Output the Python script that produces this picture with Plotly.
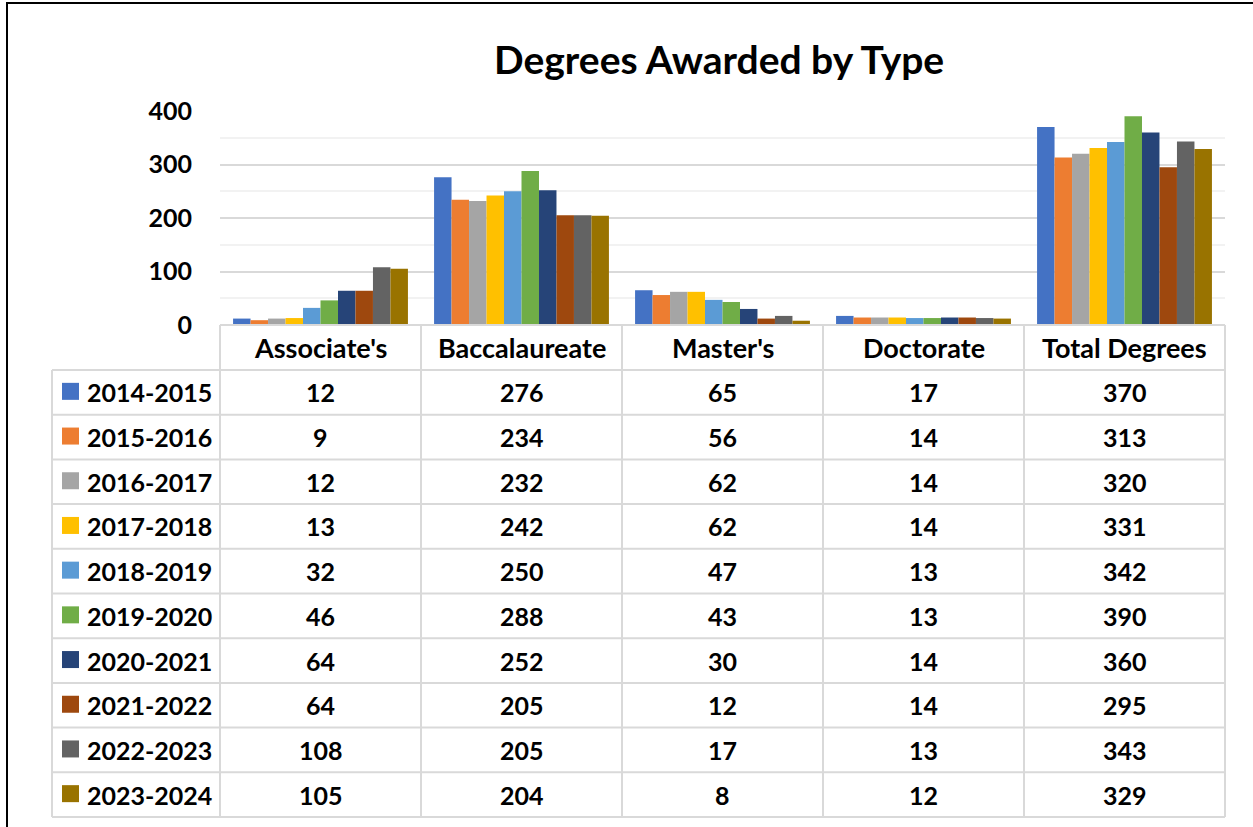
import plotly.graph_objects as go

W, H = 1253, 827

categories = ["Associate's", "Baccalaureate", "Master's", "Doctorate", "Total Degrees"]
years = ["2014-2015", "2015-2016", "2016-2017", "2017-2018", "2018-2019",
         "2019-2020", "2020-2021", "2021-2022", "2022-2023", "2023-2024"]
v2014 = [12, 276, 65, 17, 370]
v2015 = [9, 234, 56, 14, 313]
v2016 = [12, 232, 62, 14, 320]
v2017 = [13, 242, 62, 14, 331]
v2018 = [32, 250, 47, 13, 342]
v2019 = [46, 288, 43, 13, 390]
v2020 = [64, 252, 30, 14, 360]
v2021 = [64, 205, 12, 14, 295]
v2022 = [108, 205, 17, 13, 343]
v2023 = [105, 204, 8, 12, 329]
series = [v2014, v2015, v2016, v2017, v2018, v2019, v2020, v2021, v2022, v2023]
colors = ["#4472C4", "#ED7D31", "#A5A5A5", "#FFC000", "#5B9BD5",
          "#70AD47", "#264478", "#9E480E", "#636363", "#997300"]
title = "Degrees Awarded by Type"
y_ticks = [0, 100, 200, 300, 400]

FONT = "Lato"

def px(x):
    return x / W

def py(y):
    return 1 - y / H

# layout geometry (pixels)
PL, PR = 220, 1225          # plot area / table category columns
PT, PB = 111, 325           # plot top (400) / baseline (0)
TL = 52                     # table left edge (label column)
HDR_B = 370                 # header row bottom
TB = 817                    # table bottom
ncol = len(categories)
colw = (PR - PL) / ncol
rowh = (TB - HDR_B) / len(years)

fig = go.Figure()
for name, vals, c in zip(years, series, colors):
    fig.add_trace(go.Bar(x=categories, y=vals, name=name, marker_color=c,
                         marker_line_width=0, showlegend=False))

shapes = []
annotations = []
grid_c = "#D9D9D9"

# outer border
shapes.append(dict(type="rect", xref="paper", yref="paper",
                   x0=px(7), x1=px(W + 20), y0=py(H + 20), y1=py(3),
                   line=dict(color="black", width=2)))

# table horizontal lines
shapes.append(dict(type="line", xref="paper", yref="paper",
                   x0=px(PL), x1=px(PR), y0=py(PB), y1=py(PB),
                   line=dict(color=grid_c, width=2)))
for i in range(len(years) + 1):
    yy = HDR_B + i * rowh
    shapes.append(dict(type="line", xref="paper", yref="paper",
                       x0=px(TL), x1=px(PR), y0=py(yy), y1=py(yy),
                       line=dict(color=grid_c, width=2)))
# table vertical lines
shapes.append(dict(type="line", xref="paper", yref="paper",
                   x0=px(TL), x1=px(TL), y0=py(HDR_B), y1=py(TB),
                   line=dict(color=grid_c, width=2)))
for j in range(ncol + 1):
    xx = PL + j * colw
    shapes.append(dict(type="line", xref="paper", yref="paper",
                       x0=px(xx), x1=px(xx), y0=py(PB), y1=py(TB),
                       line=dict(color=grid_c, width=2)))

tfont = dict(family=FONT, size=25, color="black", weight="bold")
hfont = dict(family=FONT, size=27, color="black", weight="bold")

# header labels
for j, cat in enumerate(categories):
    annotations.append(dict(x=px(PL + (j + 0.5) * colw), y=py((PB + HDR_B) / 2),
                            xref="paper", yref="paper", text=cat, showarrow=False,
                            xanchor="center", yanchor="middle", font=hfont))

# rows
for i, (name, vals, c) in enumerate(zip(years, series, colors)):
    cy = HDR_B + (i + 0.5) * rowh
    shapes.append(dict(type="rect", xref="paper", yref="paper",
                       x0=px(62), x1=px(79), y0=py(cy - 1 + 8.5), y1=py(cy - 1 - 8.5),
                       fillcolor=c, line=dict(width=0)))
    annotations.append(dict(x=px(85), y=py(cy), xref="paper", yref="paper",
                            text=name, showarrow=False, xanchor="left",
                            yanchor="middle", font=tfont))
    for j, v in enumerate(vals):
        annotations.append(dict(x=px(PL + (j + 0.5) * colw), y=py(cy),
                                xref="paper", yref="paper", text=str(v),
                                showarrow=False, xanchor="center", yanchor="middle",
                                font=tfont))

# title
annotations.append(dict(x=px(719), y=py(59), xref="paper", yref="paper",
                        text=title, showarrow=False, xanchor="center",
                        yanchor="middle",
                        font=dict(family=FONT, size=39, color="black", weight="bold")))

fig.update_layout(
    width=W, height=H,
    margin=dict(l=0, r=0, t=0, b=0, pad=0, autoexpand=False),
    paper_bgcolor="white", plot_bgcolor="white",
    barmode="group", bargap=0.13, bargroupgap=0,
    shapes=shapes, annotations=annotations,
    xaxis=dict(domain=[px(PL), px(PR)], showticklabels=False, showgrid=False,
               zeroline=False, showline=False, ticks="", automargin=False),
    yaxis=dict(domain=[py(PB), py(PT)], range=[0, 400], tickvals=y_ticks,
               showgrid=True, gridcolor=grid_c, gridwidth=1.5,
               minor=dict(dtick=50, showgrid=True, gridcolor="#F2F2F2", gridwidth=1.5),
               zeroline=False, showline=False, ticks="", automargin=False,
               ticklabelstandoff=27,
               tickfont=dict(family=FONT, size=25, color="black", weight="bold")),
)

fig.write_html(
    "out.html",
    config={"displayModeBar": False},
    post_script=("document.documentElement.style.margin='0';"
                 "document.body.style.margin='0';"
                 "document.documentElement.style.overflow='hidden';"
                 "document.body.style.overflow='hidden';"),
)
